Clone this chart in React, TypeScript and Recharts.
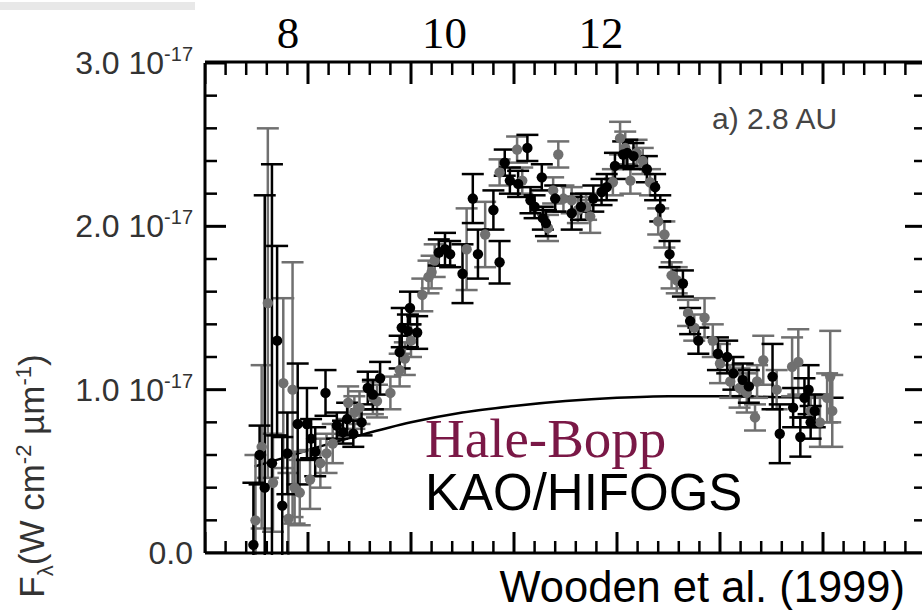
import React from 'react';
import { ComposedChart, Scatter, Line, XAxis, YAxis, ZAxis, ErrorBar } from 'recharts';

// Spectrum rows: [wavelength (µm), flux (1e-17 W cm^-2 µm^-1), 1-sigma error]
const blackRun: [number, number, number][] = [
  [7.47, 0.05, 0.38], [7.53, 0.6, 0.18], [7.58, 0.4, 1.79], [7.65, 0.55, 1.83],
  [7.7, 1.3, 0.58], [7.75, 0.29, 0.42], [7.8, 0.61, 0.25], [7.9, 0.79, 0.37],
  [7.99, 0.79, 0.22], [8.03, 0.7, 0.12], [8.07, 0.62, 0.15], [8.17, 0.98, 0.14],
  [8.28, 0.78, 0.08], [8.34, 0.74, 0.07], [8.38, 0.82, 0.1], [8.44, 0.73, 0.08],
  [8.52, 0.8, 0.08], [8.58, 1.01, 0.1], [8.63, 0.97, 0.09], [8.7, 1.07, 0.1],
  [8.89, 1.23, 0.1], [8.91, 1.38, 0.12], [8.97, 1.36, 0.1], [8.99, 1.5, 0.1],
  [9.06, 1.35, 0.1], [9.27, 1.84, 0.08], [9.33, 1.86, 0.1], [9.38, 1.83, 0.08],
  [9.5, 1.71, 0.18], [9.6, 2.17, 0.15], [9.65, 1.83, 0.15], [9.8, 2.1, 0.12],
  [9.86, 1.78, 0.13], [9.91, 2.39, 0.08], [9.96, 2.28, 0.08], [10.04, 2.26, 0.08],
  [10.13, 2.48, 0.08], [10.16, 2.16, 0.08], [10.2, 2.12, 0.07], [10.27, 2.3, 0.08],
  [10.28, 2.05, 0.07], [10.31, 2.02, 0.08], [10.4, 2.17, 0.08], [10.56, 2.08, 0.1],
  [10.65, 2.12, 0.08], [10.77, 2.17, 0.08], [10.85, 2.21, 0.08], [10.9, 2.24, 0.08],
  [10.98, 2.37, 0.08], [11.06, 2.44, 0.08], [11.1, 2.45, 0.08], [11.16, 2.43, 0.08],
  [11.29, 2.35, 0.08], [11.37, 2.24, 0.08], [11.42, 2.11, 0.08], [11.51, 1.83, 0.08],
  [11.64, 1.65, 0.08], [11.71, 1.42, 0.08], [11.79, 1.3, 0.08], [11.98, 1.22, 0.1],
  [12.07, 1.2, 0.1], [12.13, 1.1, 0.1], [12.22, 1.06, 0.1], [12.28, 1.02, 0.1],
  [12.51, 1.08, 0.2], [12.58, 0.73, 0.18], [12.71, 0.89, 0.12], [12.78, 0.71, 0.12],
  [12.82, 0.95, 0.12], [12.86, 1.0, 0.15], [12.92, 0.87, 0.1], [12.88, 0.8, 0.1],
];

const greyRun: [number, number, number][] = [
  [7.49, 0.2, 0.4], [7.55, 0.65, 0.5], [7.61, 1.53, 1.07], [7.66, 0.43, 0.3],
  [7.76, 1.04, 0.52], [7.81, 0.21, 0.28], [7.85, 1.0, 0.78], [7.87, 0.4, 0.22],
  [7.92, 0.37, 0.2], [8.02, 0.45, 0.18], [8.12, 0.55, 0.15], [8.18, 0.61, 0.12],
  [8.24, 0.67, 0.12], [8.39, 0.92, 0.1], [8.45, 0.86, 0.1], [8.5, 0.89, 0.1],
  [8.63, 0.95, 0.1], [8.67, 0.93, 0.1], [8.8, 0.98, 0.1], [8.89, 1.12, 0.1],
  [8.94, 1.19, 0.1], [9.0, 1.3, 0.1], [9.11, 1.58, 0.1], [9.17, 1.69, 0.1],
  [9.2, 1.72, 0.1], [9.23, 1.79, 0.1], [9.54, 1.86, 0.25], [9.72, 1.95, 0.2],
  [9.86, 2.33, 0.08], [10.03, 2.47, 0.08], [10.08, 2.28, 0.08], [10.33, 1.99, 0.08],
  [10.38, 2.22, 0.08], [10.43, 2.44, 0.08], [10.48, 2.17, 0.08], [10.56, 2.16, 0.08],
  [10.62, 2.1, 0.08], [10.7, 2.12, 0.08], [10.74, 2.06, 0.1], [10.96, 2.27, 0.08],
  [11.03, 2.54, 0.1], [11.08, 2.48, 0.1], [11.13, 2.28, 0.08], [11.19, 2.45, 0.08],
  [11.25, 2.4, 0.08], [11.32, 2.27, 0.08], [11.4, 2.03, 0.08], [11.46, 1.95, 0.08],
  [11.53, 1.7, 0.08], [11.58, 1.67, 0.08], [11.69, 1.47, 0.08], [11.75, 1.38, 0.08],
  [11.85, 1.44, 0.12], [11.93, 1.3, 0.1], [12.0, 1.16, 0.12], [12.1, 1.05, 0.1],
  [12.19, 1.01, 0.12], [12.26, 0.98, 0.12], [12.34, 0.83, 0.08], [12.36, 1.05, 0.1],
  [12.42, 1.18, 0.15], [12.55, 1.0, 0.12], [12.7, 1.14, 0.18], [12.76, 1.17, 0.2],
  [12.88, 0.87, 0.1], [12.97, 0.8, 0.15], [13.04, 0.95, 0.15], [13.07, 1.08, 0.28],
  [13.09, 0.87, 0.22],
];

// Blackbody continuum under the silicate feature: [wavelength, flux]
const continuum: [number, number][] = [
  [7.48, 0.53], [7.8, 0.59], [8.0, 0.63], [8.5, 0.72], [9.0, 0.8], [9.5, 0.86],
  [10.0, 0.9], [10.5, 0.93], [11.0, 0.95], [11.5, 0.96], [12.0, 0.96], [12.5, 0.955],
  [13.0, 0.95], [13.2, 0.95],
];

const topLabels = [8, 10, 12];
const yLabelTicks = [0, 1, 2, 3];

const blackPts = blackRun.map(([lam, f, err]) => ({ lam, f, err }));
const greyPts = greyRun.map(([lam, f, err]) => ({ lam, f, err }));
const contPts = continuum.map(([lam, f]) => ({ lam, f }));

// Frame tick marks: minor every 0.2, major on whole numbers, on all four sides
const X_MIN = 7, X_MAX = 14, Y_MIN = 0, Y_MAX = 3;
const xMarks = Array.from({ length: 36 }, (_, i) => +(X_MIN + i * 0.2).toFixed(1));
const yMarks = Array.from({ length: 16 }, (_, i) => +(Y_MIN + i * 0.2).toFixed(1));
const isMajor = (v: number) => Math.abs(v - Math.round(v)) < 1e-6;
const bottomMarks = xMarks.map((lam) => ({ lam, f: Y_MIN, major: isMajor(lam) }));
const topMarks = xMarks.map((lam) => ({ lam, f: Y_MAX, major: isMajor(lam) }));
const leftMarks = yMarks.map((f) => ({ lam: X_MIN, f, major: isMajor(f) }));
const rightMarks = yMarks.map((f) => ({ lam: X_MAX, f, major: isMajor(f) }));

const MAJOR = 21;
const MINOR = 12;
const GREY = '#707070';
const SANS = '"Liberation Sans", Arial, Helvetica, sans-serif';
const SERIF = '"Liberation Serif", "Times New Roman", serif';
const frameLine = { stroke: '#000', strokeWidth: 3 };

const markShape = (dx: number, dy: number) => (p: any) => {
  const len = p.payload.major ? MAJOR : MINOR;
  return (
    <line x1={p.cx} y1={p.cy} x2={p.cx + dx * len} y2={p.cy + dy * len}
      stroke="#000" strokeWidth={p.payload.major ? 3 : 2.5} />
  );
};

const YLabel = (p: any) => {
  const v = p.payload.value;
  return (
    <text x={p.x} y={p.y + 11} textAnchor="end" fontFamily={SANS} fontSize={32} fill="#333">
      {v.toFixed(1)}
      {v !== 0 && (
        <>
          {' 10'}
          <tspan fontSize={20} dy={-13}>-17</tspan>
        </>
      )}
    </text>
  );
};
const TopLabel = (p: any) => (
  <text x={p.x} y={p.y - 15} textAnchor="middle" fontFamily={SERIF} fontSize={45} fill="#000">
    {p.payload.value}
  </text>
);

export default function App() {
  return (
    <div style={{ position: 'absolute', left: 0, top: 0, width: 922, height: 610, overflow: 'hidden', background: '#fff' }}>
      <ComposedChart width={940} height={610} margin={{ top: 61, right: 13, bottom: 56, left: 204 }}>
        <XAxis xAxisId="x" type="number" dataKey="lam" domain={[X_MIN, X_MAX]} allowDataOverflow
          height={1} tick={false} tickLine={false} axisLine={frameLine} />
        <XAxis xAxisId="xt" type="number" dataKey="lam" orientation="top" domain={[X_MIN, X_MAX]} allowDataOverflow
          height={1} tick={false} tickLine={false} axisLine={frameLine} />
        <XAxis xAxisId="lbl" type="number" dataKey="lam" orientation="top" domain={[6.94, 16.15]} allowDataOverflow
          ticks={topLabels} interval={0} height={1} tickSize={0} tickMargin={0}
          axisLine={false} tickLine={false} tick={TopLabel} />
        <YAxis yAxisId="y" type="number" dataKey="f" domain={[Y_MIN, Y_MAX]} allowDataOverflow
          ticks={yLabelTicks} interval={0} width={1} tickSize={0} tickMargin={12}
          axisLine={frameLine} tickLine={false} tick={YLabel} />
        <YAxis yAxisId="yr" type="number" dataKey="f" orientation="right" domain={[Y_MIN, Y_MAX]} allowDataOverflow
          width={1} tick={false} tickLine={false} axisLine={frameLine} />
        <ZAxis range={[85, 85]} />
        <Scatter xAxisId="x" yAxisId="y" data={bottomMarks} dataKey="f" shape={markShape(0, -1)} isAnimationActive={false} />
        <Scatter xAxisId="x" yAxisId="y" data={topMarks} dataKey="f" shape={markShape(0, 1)} isAnimationActive={false} />
        <Scatter xAxisId="x" yAxisId="y" data={leftMarks} dataKey="f" shape={markShape(1, 0)} isAnimationActive={false} />
        <Scatter xAxisId="x" yAxisId="y" data={rightMarks} dataKey="f" shape={markShape(-1, 0)} isAnimationActive={false} />
        <Line xAxisId="x" yAxisId="y" data={contPts} dataKey="f" type="monotone" dot={false}
          stroke="#000" strokeWidth={2.5} isAnimationActive={false} />
        <Scatter xAxisId="x" yAxisId="y" data={greyPts} dataKey="f" fill={GREY} isAnimationActive={false}>
          <ErrorBar dataKey="err" direction="y" width={11} stroke={GREY} strokeWidth={2.5} />
        </Scatter>
        <Scatter xAxisId="x" yAxisId="y" data={blackPts} dataKey="f" fill="#000" isAnimationActive={false}>
          <ErrorBar dataKey="err" direction="y" width={11} stroke="#000" strokeWidth={2.5} />
        </Scatter>
      </ComposedChart>
      <svg width={922} height={610} style={{ position: 'absolute', left: 0, top: 0, pointerEvents: 'none' }}>
        {/* keep error bars inside the frame */}
        <rect x={207} y={555} width={300} height={55} fill="#fff" />
        <rect x={0} y={2} width={195} height={8} fill="#e8e8e8" />
        <text x={712} y={129} fontFamily={SANS} fontSize={30} fill="#444">a) 2.8 AU</text>
        <text x={425} y={457} fontFamily={SERIF} fontSize={55} fill="#7a1846">Hale-Bopp</text>
        <text x={425} y={510} fontFamily={SANS} fontSize={51} fill="#000">KAO/HIFOGS</text>
        <text x={905} y={602} textAnchor="end" fontFamily={SANS} fontSize={43.5} fill="#000">Wooden et al. (1999)</text>
        <text transform="translate(44, 476) rotate(-90)" textAnchor="middle" fontFamily={SANS} fontSize={35} fill="#333">
          F<tspan fontSize={22} dy={9}>λ</tspan>
          <tspan dy={-9}>(W cm</tspan>
          <tspan fontSize={22} dy={-13}>-2</tspan>
          <tspan dy={13}> µm</tspan>
          <tspan fontSize={22} dy={-13}>-1</tspan>
          <tspan dy={13}>)</tspan>
        </text>
      </svg>
    </div>
  );
}
